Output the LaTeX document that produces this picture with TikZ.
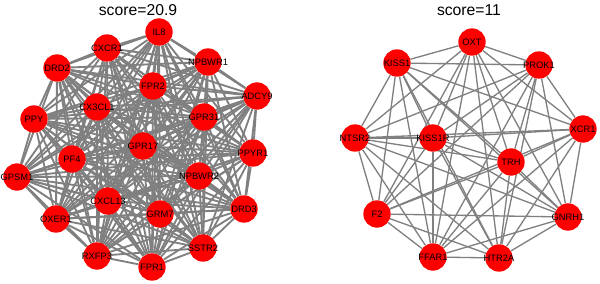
\documentclass[tikz,border=0pt]{standalone}
\usepackage{fontspec}
\setmainfont{Liberation Sans}
\usepackage{tikz}
\pgfdeclarelayer{background}
\pgfsetlayers{background,main}
\definecolor{nodered}{RGB}{255,0,0}
\definecolor{edgegray}{RGB}{128,128,128}
\tikzset{
  ppi node/.style={
    circle,
    fill=nodered,
    minimum size=20.5pt,
    inner sep=0pt,
    font=\fontsize{7}{8}\selectfont,
    execute at begin node={\hbox to 0pt\bgroup\hss},
    execute at end node={\hss\egroup},
  },
  ppi edge/.style={draw=edgegray, line width=1.4pt},
  ppi edge thin/.style={draw=edgegray, line width=1pt},
  ppi title/.style={font=\fontsize{11.8}{13}\selectfont},
}

\begin{document}
\begin{tikzpicture}[x=0.75pt,y=-0.75pt]
  \useasboundingbox (0,0) rectangle (600,283);
  % left cluster
  \node[ppi title] (title1) at (138,10) {score=20.9};
  \node[ppi node] (IL8) at (159,32) {IL8};
  \node[ppi node] (CXCR1) at (107,48) {CXCR1};
  \node[ppi node] (DRD2) at (57,68) {DRD2};
  \node[ppi node] (NPBWR1) at (208,62) {NPBWR1};
  \node[ppi node] (FPR2) at (153,86) {FPR2};
  \node[ppi node] (ADCY9) at (257,96) {ADCY9};
  \node[ppi node] (CX3CL1) at (97,107) {CX3CL1};
  \node[ppi node] (GPR31) at (204,117) {GPR31};
  \node[ppi node] (PPY) at (34,119) {PPY};
  \node[ppi node] (GPR17) at (143,146) {GPR17};
  \node[ppi node] (PPYR1) at (253,153) {PPYR1};
  \node[ppi node] (PF4) at (72,159) {PF4};
  \node[ppi node] (GPSM1) at (17,177) {GPSM1};
  \node[ppi node] (NPBWR2) at (199,176) {NPBWR2};
  \node[ppi node] (CXCL13) at (108,201) {CXCL13};
  \node[ppi node] (DRD3) at (244,209) {DRD3};
  \node[ppi node] (OXER1) at (56,219) {OXER1};
  \node[ppi node] (GRM7) at (160,214) {GRM7};
  \node[ppi node] (SSTR2) at (203,248) {SSTR2};
  \node[ppi node] (RXFP3) at (97,256) {RXFP3};
  \node[ppi node] (FPR1) at (152,267) {FPR1};
  % right cluster
  \node[ppi title] (title2) at (469,10) {score=11};
  \node[ppi node] (OXT) at (472,42) {OXT};
  \node[ppi node] (KISS1) at (397,63) {KISS1};
  \node[ppi node] (PROK1) at (539,65) {PROK1};
  \node[ppi node] (NTSR2) at (355,138) {NTSR2};
  \node[ppi node] (KISS1R) at (433,138) {KISS1R};
  \node[ppi node] (XCR1) at (583,129) {XCR1};
  \node[ppi node] (TRH) at (511,162) {TRH};
  \node[ppi node] (F2) at (377,214) {F2};
  \node[ppi node] (GNRH1) at (568,217) {GNRH1};
  \node[ppi node] (FFAR1) at (433,257) {FFAR1};
  \node[ppi node] (HTR2A) at (499,258) {HTR2A};
  % edges, every pair in each cluster
  \begin{pgfonlayer}{background}
    \foreach \a [count=\i] in {IL8,CXCR1,DRD2,NPBWR1,FPR2,ADCY9,CX3CL1,GPR31,PPY,GPR17,PPYR1,PF4,GPSM1,NPBWR2,CXCL13,DRD3,OXER1,GRM7,SSTR2,RXFP3,FPR1}
      \foreach \b [count=\j] in {IL8,CXCR1,DRD2,NPBWR1,FPR2,ADCY9,CX3CL1,GPR31,PPY,GPR17,PPYR1,PF4,GPSM1,NPBWR2,CXCL13,DRD3,OXER1,GRM7,SSTR2,RXFP3,FPR1}
        {\ifnum\j>\i \draw[ppi edge] (\a) -- (\b); \fi}
    \foreach \a [count=\i] in {OXT,KISS1,PROK1,NTSR2,KISS1R,XCR1,TRH,F2,GNRH1,FFAR1,HTR2A}
      \foreach \b [count=\j] in {OXT,KISS1,PROK1,NTSR2,KISS1R,XCR1,TRH,F2,GNRH1,FFAR1,HTR2A}
        {\ifnum\j>\i \draw[ppi edge thin] (\a) -- (\b); \fi}
  \end{pgfonlayer}
\end{tikzpicture}
\end{document}
